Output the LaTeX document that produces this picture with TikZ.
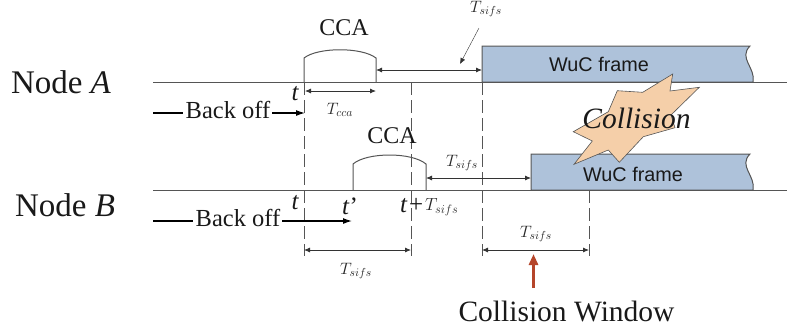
\documentclass[tikz,border=0pt]{standalone}
\usepackage{fix-cm}
\usepackage{fontspec}
\setmainfont{Liberation Serif}
\newfontfamily\framefont{Liberation Sans}
\usetikzlibrary{arrows.meta,positioning,calc}
\definecolor{linegrey}{RGB}{85,85,85}
\definecolor{framefill}{RGB}{174,194,218}
\definecolor{burstfill}{RGB}{245,207,169}
\definecolor{winred}{RGB}{181,69,42}
\tikzset{
  lab/.style={inner sep=0pt,text=black!90},
  timeline/.style={line width=1pt,draw=linegrey},
  guide/.style={line width=1pt,draw=linegrey,dash pattern=on 13pt off 5pt},
  slot/.style={line width=1pt,draw=linegrey},
  wucbox/.style={line width=1pt,draw=linegrey,fill=framefill},
  span/.style={{Latex[length=6pt,width=5pt]}-{Latex[length=6pt,width=5pt]},line width=.8pt,draw=black!80},
  backflow/.style={-{Latex[length=9pt,width=6pt]},line width=1.2pt,draw=black},
  backline/.style={line width=1.2pt,draw=black},
  nodelab/.style={lab,font=\fontsize{33}{36}\selectfont},
  ccalab/.style={lab,font=\fontsize{24}{28}\selectfont},
  backlab/.style={lab,font=\fontsize{24.5}{28}\selectfont},
  tlab/.style={lab,font=\fontsize{25}{28}\selectfont\itshape},
  durlab/.style={lab,text=black!85,font=\fontsize{16.5}{18}\selectfont},
  framelab/.style={lab,font=\framefont\fontsize{19.8}{22}\selectfont}
}
\begin{document}
\begin{tikzpicture}[x=1pt,y=-1pt]
  \useasboundingbox (0,0) rectangle (787,330);
  % frames
  \draw[wucbox] (482,82) -- (482,46) -- (750,46) .. controls (738,58) and (756,68) .. (753,82) -- cycle;
  \draw[wucbox] (531,190) -- (531,154) -- (750,154) .. controls (738,166) and (756,176) .. (753,190) -- cycle;
  % time lines
  \coordinate (a0) at (153,82);  \coordinate (a1) at (787,82);
  \coordinate (b0) at (153,190); \coordinate (b1) at (787,190);
  \draw[timeline] (a0) -- (a1);
  \draw[timeline] (b0) -- (b1);
  % guides
  \coordinate (g1) at (304,82);  \coordinate (g1e) at (304,256);
  \coordinate (g2) at (411,82);  \coordinate (g2e) at (411,256);
  \coordinate (g3) at (482,82);  \coordinate (g3e) at (482,256);
  \coordinate (g4) at (589,190); \coordinate (g4e) at (589,256);
  \draw[guide] (g1) -- (g1e);
  \draw[guide] (g2) -- (g2e);
  \draw[guide] (g3) -- (g3e);
  \draw[guide] (g4) -- (g4e);
  % sensing slots
  \draw[slot] (304,82) -- (304,58) .. controls (318,47) and (362,47) .. (376,58) -- (376,82);
  \draw[slot] (353,190) -- (353,164) .. controls (367,152) and (412,152) .. (426,164) -- (426,190);
  \node[ccalab] (ccaA) at (344,28) {CCA};
  \node[ccalab] (ccaB) at (392,136) {CCA};
  % spans
  \coordinate (ca0) at (305,91);  \coordinate (ca1) at (376,91);
  \coordinate (sa0) at (376,70);  \coordinate (sa1) at (482,70);
  \coordinate (sb0) at (426,178); \coordinate (sb1) at (531,178);
  \coordinate (lo0) at (304,250); \coordinate (lo1) at (411,250);
  \coordinate (wi0) at (482,250); \coordinate (wi1) at (589,250);
  \draw[span] (ca0) -- (ca1);
  \draw[span] (sa0) -- (sa1);
  \draw[span] (sb0) -- (sb1);
  \draw[span] (lo0) -- (lo1);
  \draw[span] (wi0) -- (wi1);
  \node[durlab] (tcca) at (340,110) {$T_{cca}$};
  \node[durlab] (tsa) at (486,9) {$T_{sifs}$};
  \node[durlab] (tsb) at (462,163) {$T_{sifs}$};
  \node[durlab] (tlo) at (356,271) {$T_{sifs}$};
  \node[durlab] (twi) at (536,234) {$T_{sifs}$};
  \coordinate (pt0) at (479,28); \coordinate (pt1) at (460,64);
  \draw[-{Latex[length=6pt,width=5pt]},draw=black!80] (pt0) -- (pt1);
  % back off
  \node[nodelab] (nodeA) at (61,82) {Node \textit{A}};
  \node[nodelab] (nodeB) at (65,205) {Node \textit{B}};
  \node[backlab] (backA) at (228,110) {Back off};
  \node[backlab] (backB) at (238,218) {Back off};
  \coordinate (la0) at (153,113); \coordinate (la1) at (305,113);
  \coordinate (lb0) at (153,221); \coordinate (lb1) at (352,221);
  \draw[backline] (la0) -- ([xshift=-3pt]backA.west |- la0);
  \draw[backflow] (backA.east |- la1) ++(2,0) -- (la1);
  \draw[backline] (lb0) -- ([xshift=-3pt]backB.west |- lb0);
  \draw[backflow] (backB.east |- lb1) ++(2,0) -- (lb1);
  \node[tlab] (tA) at (295,94) {t};
  \node[tlab] (tB) at (295,203) {t};
  \node[tlab] (tp) at (350,206) {t\textup{'}};
  \node[tlab,anchor=west] (tq) at (400,206) {t\kern2pt\textup{+}};
  \node[durlab,font=\fontsize{17.5}{22}\selectfont,anchor=west] (tqs) at (425,207) {$T_{sifs}$};
  % burst
  \draw[semithick,draw=linegrey,fill=burstfill] (672.7,74) -- (670,91) -- (699.3,87.3) -- (671,115) -- (675,127.7)
    -- (643.3,136.7) -- (619.3,162.3) -- (608.3,150) -- (574,164.3) -- (592.3,141) -- (573.3,131.7)
    -- (608.3,111.7) -- (617.3,90.7) -- (642.7,92.3) -- cycle;
  \node[lab,font=\fontsize{29.5}{32}\selectfont\itshape] (burst) at (636.5,118) {Collision};
  \node[framelab] (wucA) at (599,64) {WuC frame};
  \node[framelab] (wucB) at (633,174) {WuC frame};
  % window
  \node[lab,font=\fontsize{29.5}{32}\selectfont] (window) at (566.5,311) {Collision Window};
  \coordinate (wa0) at (533.5,288); \coordinate (wa1) at (533.5,254);
  \draw[-{Triangle[length=11pt,width=9pt]},line width=3pt,draw=winred] (wa0) -- (wa1);
\end{tikzpicture}
\end{document}
